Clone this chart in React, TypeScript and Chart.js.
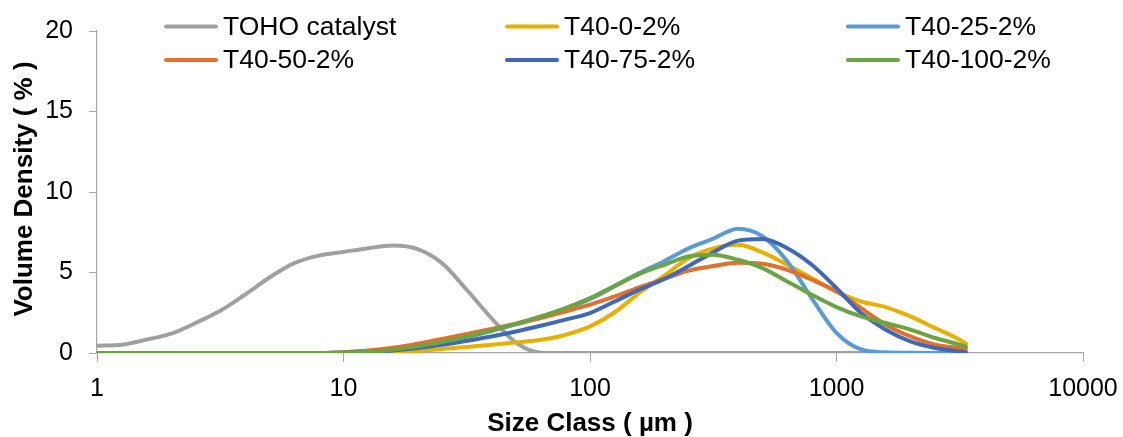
import React, { useEffect, useRef } from 'react';
import { Chart, registerables } from 'chart.js';

Chart.register(...registerables);

// Particle size classes (µm), log-spaced bins
const sizeClasses = [
  1, 1.26, 1.58, 2, 2.51, 3.16, 3.98, 5.01, 6.31, 7.94,
  10, 12.6, 15.8, 20, 25.1, 31.6, 39.8, 50.1, 63.1, 79.4,
  100, 126, 158, 200, 251, 316, 398, 501, 631, 794,
  1000, 1259, 1585, 1995, 2512, 3162, 3350,
];

// Volume density (%) per size class
const tohoCatalyst = [
  0.45, 0.51, 0.82, 1.2, 1.86, 2.62, 3.62, 4.69, 5.58, 6.05,
  6.28, 6.51, 6.67, 6.45, 5.58, 3.93, 2.17, 0.64, 0.02, 0,
  0, 0, 0, 0, 0, 0, 0, 0, 0, 0,
  0, 0, 0, 0, 0, 0, 0,
];
const t40_0 = [
  0, 0, 0, 0, 0, 0, 0, 0, 0, 0,
  0, 0.02, 0.07, 0.14, 0.25, 0.37, 0.51, 0.66, 0.82, 1.13,
  1.65, 2.53, 3.72, 4.8, 5.89, 6.5, 6.72, 6.25, 5.48, 4.65,
  3.82, 3.2, 2.85, 2.27, 1.55, 0.82, 0.58,
];
const t40_25 = [
  0, 0, 0, 0, 0, 0, 0, 0, 0, 0,
  0.01, 0.06, 0.18, 0.38, 0.64, 0.98, 1.36, 1.78, 2.22, 2.74,
  3.35, 4.15, 4.96, 5.7, 6.5, 7.1, 7.72, 7.25, 5.7, 3.4,
  1.25, 0.22, 0.04, 0.01, 0, 0, 0,
];
const t40_50 = [
  0, 0, 0, 0, 0, 0, 0, 0, 0, 0,
  0.05, 0.15, 0.32, 0.58, 0.87, 1.18, 1.49, 1.82, 2.17, 2.58,
  3.0, 3.51, 4.08, 4.6, 5.12, 5.4, 5.6, 5.55, 5.17, 4.55,
  3.82, 2.79, 1.76, 1.03, 0.52, 0.31, 0.25,
];
const t40_75 = [
  0, 0, 0, 0, 0, 0, 0, 0, 0, 0,
  0.01, 0.06, 0.16, 0.31, 0.51, 0.76, 1.03, 1.34, 1.69, 2.07,
  2.48, 3.2, 3.92, 4.6, 5.4, 6.25, 6.98, 7.08, 6.51, 5.48,
  4.03, 2.48, 1.45, 0.72, 0.31, 0.1, 0.05,
];
const t40_100 = [
  0, 0, 0, 0, 0, 0, 0, 0, 0, 0,
  0.01, 0.07, 0.2, 0.41, 0.68, 1.03, 1.4, 1.82, 2.27, 2.79,
  3.41, 4.18, 4.9, 5.48, 5.99, 6.1, 5.79, 5.27, 4.44, 3.62,
  2.85, 2.27, 1.86, 1.45, 0.93, 0.52, 0.41,
];

const seriesLabels = ['TOHO catalyst', 'T40-0-2%', 'T40-25-2%', 'T40-50-2%', 'T40-75-2%', 'T40-100-2%'];
const seriesValues = [tohoCatalyst, t40_0, t40_25, t40_50, t40_75, t40_100];
const seriesColors = ['#a0a0a0', '#e8b000', '#5b9bd5', '#e3702a', '#4068b8', '#6aa542'];

const xTickValues = [1, 10, 100, 1000, 10000];
const yTickValues = [0, 5, 10, 15, 20];

const xTitle = 'Size Class ( µm )';
const yTitle = 'Volume Density ( % )';

const FONT = '"Liberation Sans", Arial, sans-serif';
const AXIS_COLOR = '#a6a6a6';

// Legend grid: 3 columns x 2 rows above the plot
const legendCols = [164, 505, 846];
const legendRows = [26.5, 60];

const overlayPlugin = {
  id: 'overlay',
  afterDraw(chart: any) {
    const ctx = chart.ctx as CanvasRenderingContext2D;
    ctx.save();
    // legend
    ctx.font = `26.5px ${FONT}`;
    ctx.textBaseline = 'middle';
    ctx.textAlign = 'left';
    chart.data.datasets.forEach((ds: any, i: number) => {
      const x = legendCols[i % 3];
      const y = legendRows[Math.floor(i / 3)];
      ctx.strokeStyle = ds.borderColor;
      ctx.lineWidth = 4;
      ctx.lineCap = 'round';
      ctx.beginPath();
      ctx.moveTo(x + 2, y);
      ctx.lineTo(x + 52, y);
      ctx.stroke();
      ctx.fillStyle = '#000';
      ctx.fillText(ds.label, x + 59, y + 1);
    });
    // axis titles
    ctx.font = `bold 26px ${FONT}`;
    ctx.fillStyle = '#000';
    ctx.textAlign = 'center';
    ctx.textBaseline = 'alphabetic';
    const area = chart.chartArea;
    ctx.fillText(xTitle, (area.left + area.right) / 2, 431);
    ctx.translate(31.5, (area.top + area.bottom) / 2 - 3);
    ctx.rotate(-Math.PI / 2);
    ctx.fillText(yTitle, 0, 0);
    ctx.restore();
  },
};

export default function App() {
  const canvasRef = useRef<HTMLCanvasElement | null>(null);

  useEffect(() => {
    if (!canvasRef.current) return;
    const chart = new Chart(canvasRef.current, {
      type: 'line',
      data: {
        datasets: seriesLabels.map((label, i) => ({
          label,
          data: sizeClasses.map((s, j) => ({ x: s, y: seriesValues[i][j] })),
          borderColor: seriesColors[i],
          backgroundColor: seriesColors[i],
          borderWidth: 4,
          pointRadius: 0,
          fill: false,
          cubicInterpolationMode: 'monotone' as const,
          borderCapStyle: 'round' as const,
          borderJoinStyle: 'round' as const,
          order: seriesLabels.length - i,
        })),
      },
      options: {
        animation: false,
        responsive: true,
        maintainAspectRatio: false,
        layout: { padding: { top: 31, right: 40, left: 0, bottom: 0 } },
        plugins: {
          legend: { display: false },
          tooltip: { enabled: false },
        },
        scales: {
          x: {
            type: 'logarithmic',
            min: 1,
            max: 10000,
            afterBuildTicks: (scale: any) => {
              scale.ticks = xTickValues.map((v) => ({ value: v }));
            },
            afterFit: (scale: any) => {
              scale.height = 84;
              scale.paddingLeft = 0;
              scale.paddingRight = 0;
            },
            ticks: {
              callback: (v: any) => String(v),
              font: { family: FONT, size: 25 },
              color: '#000',
              padding: 12,
              maxRotation: 0,
              autoSkip: false,
            },
            grid: {
              drawOnChartArea: false,
              drawTicks: true,
              tickLength: 9,
              color: AXIS_COLOR,
            },
            border: { display: true, color: AXIS_COLOR, width: 1.2 },
          },
          y: {
            type: 'linear',
            min: 0,
            max: 20,
            afterBuildTicks: (scale: any) => {
              scale.ticks = yTickValues.map((v) => ({ value: v }));
            },
            afterFit: (scale: any) => {
              scale.width = 97;
              scale.paddingTop = 0;
              scale.paddingBottom = 0;
            },
            ticks: {
              font: { family: FONT, size: 25 },
              color: '#000',
              padding: 16,
            },
            grid: {
              drawOnChartArea: false,
              drawTicks: true,
              tickLength: 8,
              color: AXIS_COLOR,
            },
            border: { display: true, color: AXIS_COLOR, width: 1.2 },
          },
        },
      },
      plugins: [overlayPlugin],
    });
    return () => chart.destroy();
  }, []);

  return (
    <div style={{ position: 'fixed', left: 0, top: 0, width: 1123, height: 437, background: '#fff' }}>
      <canvas ref={canvasRef} />
    </div>
  );
}
